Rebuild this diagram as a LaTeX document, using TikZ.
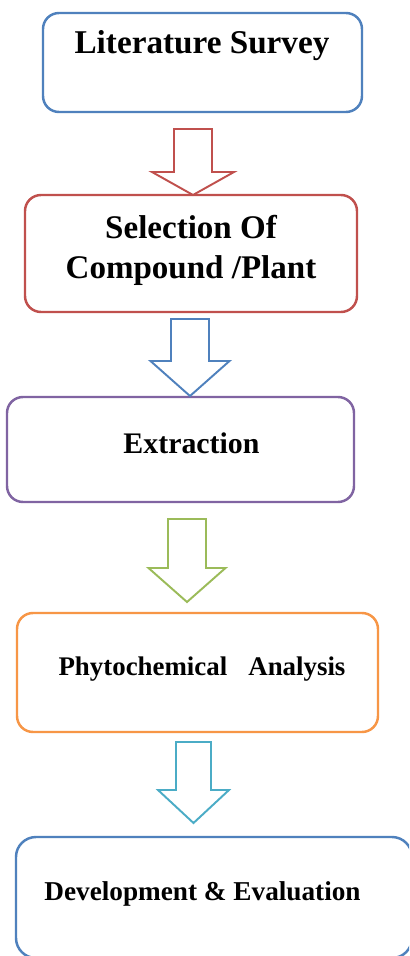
\documentclass[tikz,border=0pt]{standalone}
\usepackage{fontspec}
\setmainfont{Liberation Serif}
\usetikzlibrary{positioning, calc}
\definecolor{officeblue}{HTML}{4F81BD}
\definecolor{officered}{HTML}{C0504D}
\definecolor{officepurple}{HTML}{8064A2}
\definecolor{officegreen}{HTML}{9BBB59}
\definecolor{officeorange}{HTML}{F79646}
\definecolor{officeaqua}{HTML}{4BACC6}

\tikzset{
  stagebox/.style={draw, line width=1.4pt, rounded corners=0.32cm, inner sep=0pt},
  stagetext/.style={anchor=base, inner sep=0pt, align=center, font=\bfseries},
  blockarrow/.style={line width=1.1pt, line join=miter, fill=white}
}

\begin{document}
\begin{tikzpicture}[x=0.02cm, y=-0.02cm]
  \clip (0,0) rectangle (409,956);
  \fill[white] (0,0) rectangle (409,956);

  % Stage boxes
  \node[stagebox, officeblue, minimum width=319*0.02cm, minimum height=99*0.02cm] (litbox) at (202.5,62.5) {};
  \node[stagebox, officered, minimum width=332*0.02cm, minimum height=117*0.02cm] (selbox) at (191,253.5) {};
  \node[stagebox, officepurple, minimum width=347*0.02cm, minimum height=105*0.02cm] (extbox) at (180.5,449.5) {};
  \node[stagebox, officeorange, minimum width=361*0.02cm, minimum height=119*0.02cm] (phybox) at (197.5,672.5) {};
  \node[stagebox, officeblue, rounded corners=0.4cm, minimum width=396*0.02cm, minimum height=121*0.02cm] (devbox) at (214,897.5) {};

  % Stage labels
  \node[stagetext, font=\bfseries\fontsize{18.9}{22}\selectfont] (littext) at (202,54) {Literature Survey};
  \node[stagetext, font=\bfseries\fontsize{18.8}{22.2}\selectfont] (seltext) at (191,278) {Selection Of\\Compound /Plant};
  \node[stagetext, font=\bfseries\fontsize{17}{20}\selectfont] (exttext) at (191.5,453) {Extraction};
  \node[stagetext, font=\bfseries\fontsize{15.3}{18}\selectfont] (phytext) at (202,675) {Phytochemical\hspace{12pt}Analysis};
  \node[stagetext, font=\bfseries\fontsize{15.5}{18}\selectfont] (devtext) at (202.5,900) {Development \& Evaluation};

  % Block arrows between stages: colour / centre x / top / head base / tip / shaft half width / head half width
  \foreach \col/\cx/\ytop/\yhead/\ytip/\sw/\hw in {
      officered/193/129/172/195/19/41,
      officeblue/190/319/361/396/19/39.5,
      officegreen/187/519/568/602/19/38.5,
      officeaqua/193.5/742/790/823/17.5/35.5}
    \draw[blockarrow, draw=\col] (\cx-\sw,\ytop) -- (\cx+\sw,\ytop) -- (\cx+\sw,\yhead) -- (\cx+\hw,\yhead)
      -- (\cx,\ytip) -- (\cx-\hw,\yhead) -- (\cx-\sw,\yhead) -- cycle;
\end{tikzpicture}
\end{document}
